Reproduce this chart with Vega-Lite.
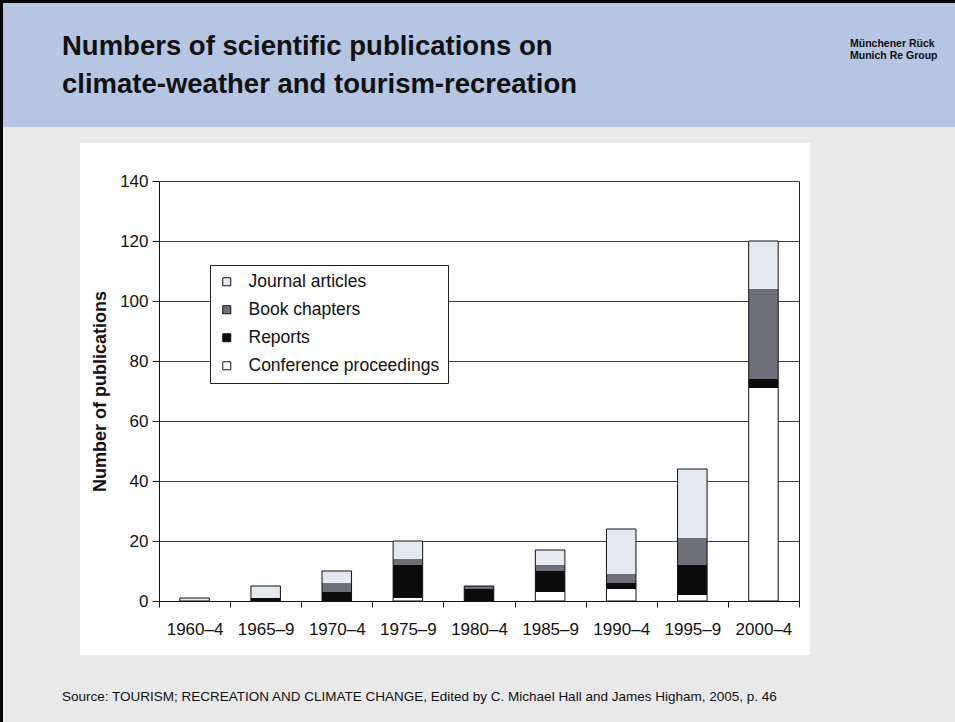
{
  "$schema": "https://vega.github.io/schema/vega-lite/v6.json",
  "background": "#000000",
  "padding": {"left": 3, "top": 3, "right": 0, "bottom": 0},
  "spacing": 0,
  "bounds": "full",
  "config": {
    "view": {"stroke": null},
    "font": "Liberation Sans"
  },
  "vconcat": [
    {
      "width": 952,
      "height": 124,
      "view": {"fill": "#b4c6e2", "stroke": null},
      "layer": [
        {
          "data": {"values": [
            {"block": "heading", "line": 1, "text": "Numbers of scientific publications on"},
            {"block": "heading", "line": 2, "text": "climate-weather and tourism-recreation"}
          ]},
          "mark": {"type": "text", "align": "left", "baseline": "middle", "font": "Liberation Sans", "fontSize": 27.5, "fontWeight": "bold", "color": "#111111"},
          "encoding": {
            "x": {"field": "block", "type": "nominal", "axis": null, "scale": {"type": "point", "padding": 0, "domain": ["heading", "logo"], "range": [59, 847]}},
            "y": {"field": "line", "type": "ordinal", "axis": null, "scale": {"type": "point", "padding": 0, "domain": [1, 2], "range": [44, 82]}},
            "text": {"field": "text"}
          }
        },
        {
          "data": {"values": [
            {"block": "logo", "line": 1, "text": "Münchener Rück"},
            {"block": "logo", "line": 2, "text": "Munich Re Group"}
          ]},
          "mark": {"type": "text", "align": "left", "baseline": "middle", "font": "Liberation Sans", "fontSize": 10.5, "fontWeight": "bold", "color": "#111111"},
          "encoding": {
            "x": {"field": "block", "type": "nominal", "axis": null, "scale": {"type": "point", "padding": 0, "domain": ["heading", "logo"], "range": [59, 847]}},
            "y": {"field": "line", "type": "ordinal", "axis": null, "scale": {"type": "point", "padding": 0, "domain": [1, 2], "range": [41, 53]}},
            "text": {"field": "text"}
          }
        }
      ],
      "resolve": {"scale": {"y": "independent"}}
    },
    {
      "width": 952,
      "height": 16,
      "view": {"fill": "#e9e9e9", "stroke": null},
      "data": {"values": []},
      "mark": "point"
    },
    {
      "spacing": 0,
      "bounds": "full",
      "hconcat": [
        {
          "width": 77,
          "height": 512,
          "view": {"fill": "#e9e9e9", "stroke": null},
          "data": {"values": []},
          "mark": "point"
        },
        {
          "width": 730,
          "height": 512,
          "view": {"fill": "#ffffff", "stroke": null},
          "data": {"values": [
            {"period": "1960–4", "type": "Journal articles", "count": 1},
            {"period": "1965–9", "type": "Reports", "count": 1},
            {"period": "1965–9", "type": "Journal articles", "count": 4},
            {"period": "1970–4", "type": "Reports", "count": 3},
            {"period": "1970–4", "type": "Book chapters", "count": 3},
            {"period": "1970–4", "type": "Journal articles", "count": 4},
            {"period": "1975–9", "type": "Conference proceedings", "count": 1},
            {"period": "1975–9", "type": "Reports", "count": 11},
            {"period": "1975–9", "type": "Book chapters", "count": 2},
            {"period": "1975–9", "type": "Journal articles", "count": 6},
            {"period": "1980–4", "type": "Reports", "count": 4},
            {"period": "1980–4", "type": "Book chapters", "count": 1},
            {"period": "1985–9", "type": "Conference proceedings", "count": 3},
            {"period": "1985–9", "type": "Reports", "count": 7},
            {"period": "1985–9", "type": "Book chapters", "count": 2},
            {"period": "1985–9", "type": "Journal articles", "count": 5},
            {"period": "1990–4", "type": "Conference proceedings", "count": 4},
            {"period": "1990–4", "type": "Reports", "count": 2},
            {"period": "1990–4", "type": "Book chapters", "count": 3},
            {"period": "1990–4", "type": "Journal articles", "count": 15},
            {"period": "1995–9", "type": "Conference proceedings", "count": 2},
            {"period": "1995–9", "type": "Reports", "count": 10},
            {"period": "1995–9", "type": "Book chapters", "count": 9},
            {"period": "1995–9", "type": "Journal articles", "count": 23},
            {"period": "2000–4", "type": "Conference proceedings", "count": 71},
            {"period": "2000–4", "type": "Reports", "count": 3},
            {"period": "2000–4", "type": "Book chapters", "count": 30},
            {"period": "2000–4", "type": "Journal articles", "count": 16}
          ]},
          "transform": [
            {"calculate": "indexof(['Conference proceedings', 'Reports', 'Book chapters', 'Journal articles'], datum.type)", "as": "stack_rank"}
          ],
          "encoding": {
            "x": {
              "field": "period",
              "type": "ordinal",
              "sort": null,
              "scale": {"type": "band", "range": [79, 719], "paddingInner": 0, "paddingOuter": 0},
              "axis": {
                "orient": "bottom",
                "offset": -54,
                "tickBand": "extent",
                "tickSize": 6,
                "tickColor": "#111111",
                "domainColor": "#111111",
                "labelFont": "Liberation Sans",
                "labelFontSize": 17,
                "labelColor": "#111111",
                "labelPadding": 14,
                "labelAngle": 0,
                "title": null,
                "grid": false
              }
            }
          },
          "layer": [
            {
              "mark": {"type": "bar", "width": {"band": 0.415}},
              "encoding": {
                "y": {
                  "field": "count",
                  "type": "quantitative",
                  "stack": "zero",
                  "scale": {"domain": [0, 140], "range": [458, 38], "nice": false},
                  "axis": {
                    "orient": "left",
                    "offset": -79,
                    "values": [0, 20, 40, 60, 80, 100, 120, 140],
                    "grid": true,
                    "gridColor": "#3c3c3c",
                    "gridWidth": 1,
                    "domainColor": "#111111",
                    "tickColor": "#111111",
                    "tickSize": 7,
                    "labelFont": "Liberation Sans",
                    "labelFontSize": 17,
                    "labelColor": "#111111",
                    "labelPadding": 4,
                    "title": "Number of publications",
                    "titleFont": "Liberation Sans",
                    "titleFontSize": 18,
                    "titleFontWeight": "bold",
                    "titleColor": "#111111",
                    "titlePadding": 10
                  }
                },
                "color": {
                  "field": "type",
                  "type": "nominal",
                  "scale": {
                    "domain": ["Journal articles", "Book chapters", "Reports", "Conference proceedings"],
                    "range": ["#e4e8f1", "#6e6f7a", "#0b0b0b", "#ffffff"]
                  },
                  "legend": {
                    "title": null,
                    "orient": "none",
                    "legendX": 207,
                    "legendY": 262,
                    "direction": "vertical",
                    "fillColor": "#ffffff",
                    "strokeColor": "#222222",
                    "padding": 8,
                    "symbolType": "square",
                    "symbolSize": 64,
                    "symbolStrokeColor": "#111111",
                    "symbolStrokeWidth": 1,
                    "labelFont": "Liberation Sans",
                    "labelFontSize": 17.5,
                    "labelColor": "#111111",
                    "labelOffset": 13,
                    "labelLimit": 400,
                    "rowPadding": 9
                  }
                },
                "order": {"field": "stack_rank", "type": "quantitative"}
              }
            },
            {
              "mark": {"type": "bar", "width": {"band": 0.415}, "fillOpacity": 0, "stroke": "#111111", "strokeWidth": 1},
              "encoding": {
                "y": {
                  "aggregate": "sum",
                  "field": "count",
                  "type": "quantitative",
                  "axis": {"orient": "right", "offset": -11, "labels": false, "ticks": false, "grid": false, "title": null, "domainColor": "#222222"}
                }
              }
            }
          ],
          "resolve": {"axis": {"y": "independent"}}
        },
        {
          "width": 145,
          "height": 512,
          "view": {"fill": "#e9e9e9", "stroke": null},
          "data": {"values": []},
          "mark": "point"
        }
      ]
    },
    {
      "width": 952,
      "height": 67,
      "view": {"fill": "#e9e9e9", "stroke": null},
      "data": {"values": [
        {"part": "source", "text": "Source: TOURISM; RECREATION AND CLIMATE CHANGE, Edited by C. Michael Hall and James Higham, 2005, p. 46"}
      ]},
      "mark": {"type": "text", "align": "left", "baseline": "middle", "font": "Liberation Sans", "fontSize": 13.5, "color": "#111111"},
      "encoding": {
        "x": {"field": "part", "type": "nominal", "axis": null, "scale": {"type": "point", "padding": 0, "range": [59, 59]}},
        "y": {"field": "part", "type": "nominal", "axis": null, "scale": {"type": "point", "padding": 0, "range": [42, 42]}},
        "text": {"field": "text"}
      }
    }
  ]
}
